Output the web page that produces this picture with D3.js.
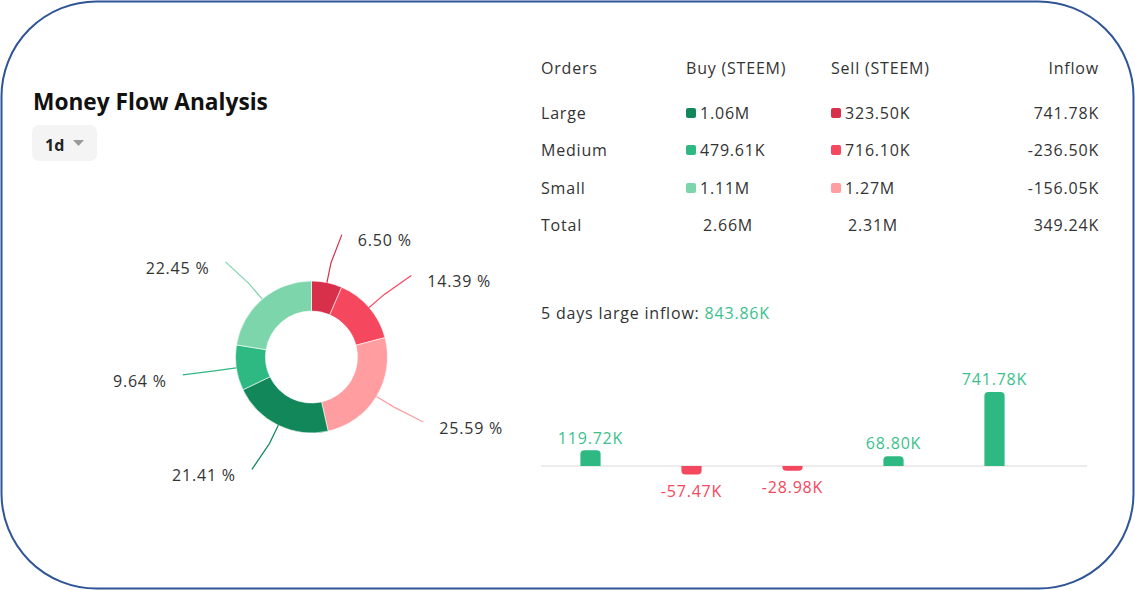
<!DOCTYPE html>
<html>
<head>
<meta charset="utf-8">
<script src="https://cdnjs.cloudflare.com/ajax/libs/d3/7.8.5/d3.min.js"></script>
<style>
  body { margin: 0; background: #fff; }
  svg text { font-family: "Open Sans", "Noto Sans", sans-serif; fill: #333; letter-spacing: 0.8px; }
</style>
</head>
<body>
<div id="chart"></div>
<script>
// Order sizes and the money flow table values (K = thousands STEEM)
var orderTypes   = ['Large', 'Medium', 'Small'];
var buyLabels    = ['1.06M', '479.61K', '1.11M'];
var sellLabels   = ['323.50K', '716.10K', '1.27M'];
var inflowLabels = ['741.78K', '-236.50K', '-156.05K'];
var totalLabels  = ['2.66M', '2.31M', '349.24K'];
var headers      = ['Orders', 'Buy (STEEM)', 'Sell (STEEM)', 'Inflow'];

// Donut shares, clockwise from 12 o'clock
var pieNames  = ['Large sell', 'Medium sell', 'Small sell', 'Large buy', 'Medium buy', 'Small buy'];
var pieShares = [6.50, 14.39, 25.59, 21.41, 9.64, 22.45];

// 5 days of large order inflow (K)
var dayNames     = ['D1', 'D2', 'D3', 'D4', 'D5'];
var dayInflow    = [119.72, -57.47, -28.98, 68.80, 741.78];
var fiveDayTotal = '843.86K';

var buyColours  = ['#11875a', '#2eb983', '#7dd5ab'];
var sellColours = ['#d8304b', '#f5475e', '#ff9da1'];
var pieColours  = sellColours.concat(buyColours);
var upColour    = '#2eb983';
var downColour  = '#f5475e';
var upText      = '#3cbf8c';

var width = 1135, height = 590;

var svg = d3.select('#chart')
            .append('svg')
            .attr('width', width)
            .attr('height', height);

// Rounded frame
svg.append('rect')
   .attr('x', 1.5).attr('y', 1.5)
   .attr('width', width - 3).attr('height', height - 3)
   .attr('rx', 95).attr('ry', 95)
   .attr('fill', '#fff')
   .attr('stroke', '#2f5597')
   .attr('stroke-width', 2);

// Title and period selector
svg.append('text')
   .attr('x', 33).attr('y', 110)
   .style('font-size', '22.7px').style('font-weight', 700).style('fill', '#111')
   .style('letter-spacing', '0px')
   .text('Money Flow Analysis');

svg.append('rect')
   .attr('x', 32).attr('y', 125).attr('width', 65).attr('height', 36)
   .attr('rx', 7).attr('fill', '#f4f4f4');

svg.append('text')
   .attr('x', 45).attr('y', 151)
   .style('font-size', '16px').style('font-weight', 700).style('fill', '#222')
   .style('letter-spacing', '0px')
   .text('1d');

svg.append('path')
   .attr('d', 'M73,140 L84,140 L78.5,146 Z')
   .attr('fill', '#9a9a9a');

// ---- Donut ----
var cx = 311.5, cy = 357, rOuter = 76, rInner = 46;

var pie = d3.pie().sort(null).value(function (d) { return d; });
var arcs = pie(pieShares);

var arc = d3.arc().innerRadius(rInner).outerRadius(rOuter);

var donut = svg.append('g').attr('transform', 'translate(' + cx + ',' + cy + ')');

donut.selectAll('path.slice')
     .data(arcs)
     .enter().append('path')
     .attr('class', 'slice')
     .attr('d', arc)
     .attr('fill', function (d, i) { return pieColours[i]; })
     .attr('stroke', '#fff')
     .attr('stroke-width', 0.6);

function midAngle (d) { return (d.startAngle + d.endAngle) / 2; }
function polar (r, a) { return [r * Math.sin(a), -r * Math.cos(a)]; }
function side (d) { return Math.sin(midAngle(d)) >= 0 ? 1 : -1; }

// end of a leader line: pushed a little outward horizontally
function leaderEnd (d) {
    var p = polar(rOuter + 49, midAngle(d));
    return [p[0] + 5 * side(d), p[1]];
}

donut.selectAll('polyline.leader')
     .data(arcs)
     .enter().append('polyline')
     .attr('class', 'leader')
     .attr('fill', 'none')
     .attr('stroke', function (d, i) { return pieColours[i]; })
     .attr('stroke-width', 1.2)
     .attr('points', function (d) {
         var a = midAngle(d);
         return [polar(rOuter, a), polar(rOuter + 20, a), leaderEnd(d)]
                .map(function (p) { return p.join(','); }).join(' ');
     });

donut.selectAll('text.pct')
     .data(arcs)
     .enter().append('text')
     .attr('class', 'pct')
     .attr('dominant-baseline', 'middle')
     .style('font-size', '16px')
     .attr('text-anchor', function (d) { return side(d) > 0 ? 'start' : 'end'; })
     .attr('x', function (d) { return leaderEnd(d)[0] + 16 * side(d); })
     .attr('y', function (d) { return leaderEnd(d)[1] + 7.5; })
     .text(function (d) { return d.data.toFixed(2) + ' %'; });

// ---- Table ----
var colX   = [541, 686, 831, 1099];
var rowY   = [70, 115, 152, 190, 227];

var table = svg.append('g').style('font-size', '16px');

headers.forEach(function (h, i) {
    table.append('text')
         .attr('x', colX[i]).attr('y', rowY[0])
         .attr('dominant-baseline', 'middle')
         .attr('text-anchor', i === 3 ? 'end' : 'start')
         .text(h);
});

orderTypes.forEach(function (name, r) {
    var y = rowY[r + 1];
    table.append('text').attr('x', colX[0]).attr('y', y).attr('dominant-baseline', 'middle').text(name);

    table.append('rect').attr('x', colX[1]).attr('y', y - 7).attr('width', 10).attr('height', 10)
         .attr('rx', 2).attr('fill', buyColours[r]);
    table.append('text').attr('x', colX[1] + 14).attr('y', y).attr('dominant-baseline', 'middle').text(buyLabels[r]);

    table.append('rect').attr('x', colX[2]).attr('y', y - 7).attr('width', 10).attr('height', 10)
         .attr('rx', 2).attr('fill', sellColours[r]);
    table.append('text').attr('x', colX[2] + 14).attr('y', y).attr('dominant-baseline', 'middle').text(sellLabels[r]);

    table.append('text').attr('x', colX[3]).attr('y', y).attr('dominant-baseline', 'middle')
         .attr('text-anchor', 'end').text(inflowLabels[r]);
});

table.append('text').attr('x', colX[0]).attr('y', rowY[4]).attr('dominant-baseline', 'middle').text('Total');
table.append('text').attr('x', colX[1] + 17).attr('y', rowY[4]).attr('dominant-baseline', 'middle').text(totalLabels[0]);
table.append('text').attr('x', colX[2] + 17).attr('y', rowY[4]).attr('dominant-baseline', 'middle').text(totalLabels[1]);
table.append('text').attr('x', colX[3]).attr('y', rowY[4]).attr('dominant-baseline', 'middle')
     .attr('text-anchor', 'end').text(totalLabels[2]);

// ---- 5 days large inflow ----
var head = svg.append('text').attr('x', 541).attr('y', 315)
              .attr('dominant-baseline', 'middle').style('font-size', '16px');
head.append('tspan').text('5 days large inflow: ');
head.append('tspan').style('fill', upText).text(fiveDayTotal);

var baseY = 466;

var xScale = d3.scaleBand()
               .domain(dayNames)
               .range([540, 1045])
               .paddingInner(0.8)
               .paddingOuter(0.4);

var yScale = d3.scalePow()
               .exponent(0.85)
               .domain([0, d3.max(dayInflow)])
               .range([0, 74]);

svg.append('line')
   .attr('x1', 541).attr('x2', 1087)
   .attr('y1', baseY).attr('y2', baseY)
   .attr('stroke', '#e6e6e6').attr('stroke-width', 1.5);

function barPath (x, w, h, up) {
    var r = Math.min(4, h);
    if (up) {
        var t = baseY - h;
        return 'M' + x + ',' + baseY + 'V' + (t + r) + 'Q' + x + ',' + t + ' ' + (x + r) + ',' + t +
               'H' + (x + w - r) + 'Q' + (x + w) + ',' + t + ' ' + (x + w) + ',' + (t + r) + 'V' + baseY + 'Z';
    }
    var b = baseY + h;
    return 'M' + x + ',' + baseY + 'V' + (b - r) + 'Q' + x + ',' + b + ' ' + (x + r) + ',' + b +
           'H' + (x + w - r) + 'Q' + (x + w) + ',' + b + ' ' + (x + w) + ',' + (b - r) + 'V' + baseY + 'Z';
}

var bars = svg.append('g');

bars.selectAll('path')
    .data(dayInflow)
    .enter().append('path')
    .attr('d', function (d, i) {
        return barPath(xScale(dayNames[i]), xScale.bandwidth(), yScale(Math.abs(d)), d >= 0);
    })
    .attr('fill', function (d) { return d >= 0 ? upColour : downColour; });

bars.selectAll('text')
    .data(dayInflow)
    .enter().append('text')
    .attr('text-anchor', 'middle')
    .attr('dominant-baseline', 'middle')
    .style('font-size', '16px')
    .style('fill', function (d) { return d >= 0 ? upText : downColour; })
    .attr('x', function (d, i) { return xScale(dayNames[i]) + xScale.bandwidth() / 2; })
    .attr('y', function (d) {
        var h = yScale(Math.abs(d));
        return d >= 0 ? baseY - h - 11 : baseY + h + 18;
    })
    .text(function (d) { return d.toFixed(2) + 'K'; });
</script>
</body>
</html>
